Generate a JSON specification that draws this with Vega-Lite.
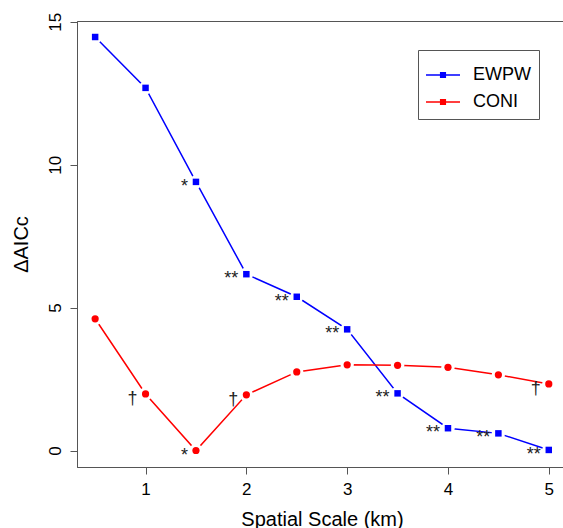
{
  "$schema": "https://vega.github.io/schema/vega-lite/v6.json",
  "width": 486,
  "height": 446,
  "autosize": {"type": "none"},
  "padding": {"left": 77, "top": 21, "right": 0, "bottom": 61},
  "background": "white",
  "config": {
    "view": {"stroke": "#555555", "strokeWidth": 1},
    "font": "Liberation Sans",
    "axis": {
      "grid": false,
      "domain": true,
      "domainColor": "#555555",
      "tickColor": "#555555",
      "tickSize": 7,
      "labelFontSize": 17,
      "labelColor": "#000000",
      "titleFontSize": 20,
      "titleFontWeight": "normal",
      "titleColor": "#000000"
    }
  },
  "data": {
    "values": [
      {"series": "EWPW", "scale": 0.5, "aic": 14.47, "sig": ""},
      {"series": "EWPW", "scale": 1.0, "aic": 12.69, "sig": ""},
      {"series": "EWPW", "scale": 1.5, "aic": 9.40, "sig": "*"},
      {"series": "EWPW", "scale": 2.0, "aic": 6.17, "sig": "**"},
      {"series": "EWPW", "scale": 2.5, "aic": 5.38, "sig": "**"},
      {"series": "EWPW", "scale": 3.0, "aic": 4.24, "sig": "**"},
      {"series": "EWPW", "scale": 3.5, "aic": 2.00, "sig": "**"},
      {"series": "EWPW", "scale": 4.0, "aic": 0.78, "sig": "**"},
      {"series": "EWPW", "scale": 4.5, "aic": 0.60, "sig": "**"},
      {"series": "EWPW", "scale": 5.0, "aic": 0.02, "sig": "**"},
      {"series": "CONI", "scale": 0.5, "aic": 4.61, "sig": ""},
      {"series": "CONI", "scale": 1.0, "aic": 1.98, "sig": "†"},
      {"series": "CONI", "scale": 1.5, "aic": 0.00, "sig": "*"},
      {"series": "CONI", "scale": 2.0, "aic": 1.95, "sig": "†"},
      {"series": "CONI", "scale": 2.5, "aic": 2.75, "sig": ""},
      {"series": "CONI", "scale": 3.0, "aic": 3.00, "sig": ""},
      {"series": "CONI", "scale": 3.5, "aic": 2.98, "sig": ""},
      {"series": "CONI", "scale": 4.0, "aic": 2.91, "sig": ""},
      {"series": "CONI", "scale": 4.5, "aic": 2.65, "sig": ""},
      {"series": "CONI", "scale": 5.0, "aic": 2.33, "sig": "†"}
    ]
  },
  "layer": [
    {
      "mark": {"type": "line", "strokeWidth": 1.5},
      "encoding": {
        "x": {
          "field": "scale", "type": "quantitative",
          "scale": {"domain": [0.32, 5.141], "nice": false, "zero": false},
          "axis": {
            "values": [1, 2, 3, 4, 5],
            "format": "d",
            "title": "Spatial Scale (km)",
            "labelPadding": 7,
            "titleX": 245,
            "titleY": 58,
            "titleBaseline": "alphabetic"
          }
        },
        "y": {
          "field": "aic", "type": "quantitative",
          "scale": {"domain": [-0.577, 15.03], "nice": false, "zero": false},
          "axis": {
            "values": [0, 5, 10, 15],
            "title": "ΔAICc",
            "labelAngle": 270,
            "labelAlign": "center",
            "labelBaseline": "bottom",
            "labelPadding": 6,
            "titleX": -50,
            "titleY": 223,
            "titleBaseline": "alphabetic"
          }
        },
        "color": {
          "field": "series", "type": "nominal",
          "scale": {"domain": ["EWPW", "CONI"], "range": ["#0000ff", "#ff0000"]}
        }
      }
    },
    {
      "mark": {"type": "circle", "color": "#ffffff", "opacity": 1, "size": 180},
      "encoding": {
        "x": {"field": "scale", "type": "quantitative"},
        "y": {"field": "aic", "type": "quantitative"}
      }
    },
    {
      "transform": [{"filter": "datum.series == 'EWPW'"}],
      "mark": {"type": "point", "shape": "square", "filled": true, "opacity": 1, "size": 42},
      "encoding": {
        "x": {"field": "scale", "type": "quantitative"},
        "y": {"field": "aic", "type": "quantitative"},
        "color": {
          "field": "series", "type": "nominal",
          "legend": {
            "title": null,
            "orient": "none",
            "legendX": 341,
            "legendY": 29,
            "padding": 8,
            "rowPadding": 1,
            "labelOffset": 13,
            "labelFontSize": 18,
            "labelColor": "#000000",
            "symbolSize": 1156,
            "symbolType": "M-1,-0.045H1V0.045H-1ZM-0.18,-0.18H0.18V0.18H-0.18Z",
            "symbolStrokeWidth": 0,
            "strokeColor": "#555555",
            "fillColor": "#ffffff",
            "encode": {
              "symbols": {
                "update": {
                  "shape": {"signal": "datum.value == 'EWPW' ? 'M-1,-0.045H1V0.045H-1ZM-0.18,-0.18H0.18V0.18H-0.18Z' : 'M-1,-0.045H1V0.045H-1ZM-0.23,0A0.23,0.23 0 1,1 0.23,0A0.23,0.23 0 1,1 -0.23,0Z'"}
                }
              }
            }
          }
        }
      }
    },
    {
      "transform": [{"filter": "datum.series == 'CONI'"}],
      "mark": {"type": "point", "shape": "circle", "filled": true, "opacity": 1, "size": 52},
      "encoding": {
        "x": {"field": "scale", "type": "quantitative"},
        "y": {"field": "aic", "type": "quantitative"},
        "color": {"field": "series", "type": "nominal"}
      }
    },
    {
      "mark": {"type": "text", "align": "right", "baseline": "alphabetic", "dx": -8, "dy": 10, "fontSize": 18, "color": "#222222"},
      "encoding": {
        "x": {"field": "scale", "type": "quantitative"},
        "y": {"field": "aic", "type": "quantitative"},
        "text": {"field": "sig", "type": "nominal"}
      }
    }
  ]
}
